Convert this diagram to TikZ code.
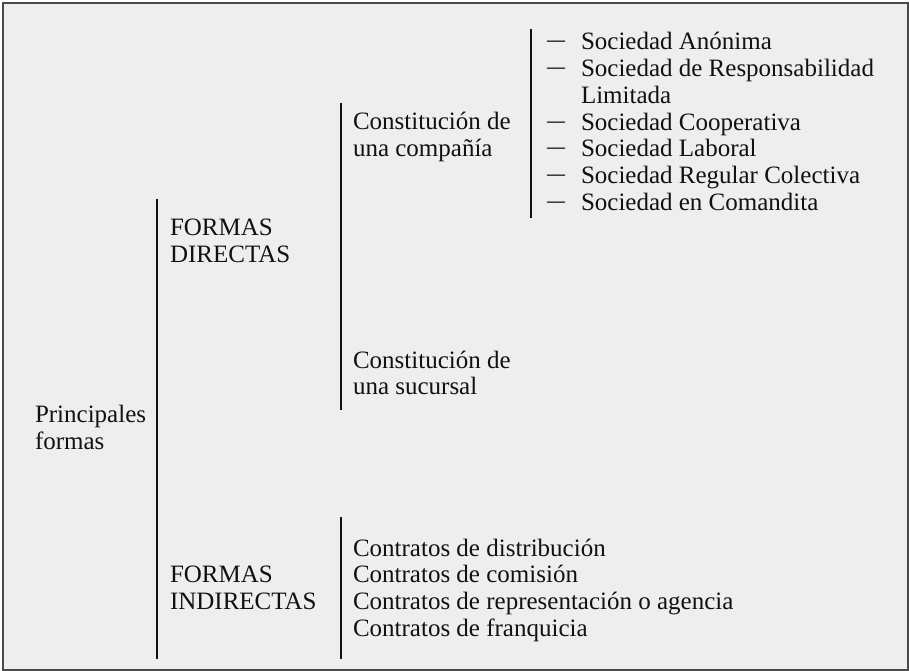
\documentclass[tikz,border=0pt]{standalone}
\usepackage{fontspec}
\usepackage{graphicx}
\setmainfont{Liberation Serif}
\definecolor{panelbg}{HTML}{EEEEEE}
\definecolor{panelframe}{HTML}{4A4A4A}
\definecolor{inkc}{HTML}{111111}
\newcommand{\itemdash}{\makebox[34pt][l]{\raisebox{2pt}{\scalebox{0.72}[1]{—}}}}
\newcommand{\stack}[1]{\vtop{\fontsize{25pt}{26.67pt}\selectfont\halign{##\hfil\cr#1\crcr}}}
\begin{document}
\begin{tikzpicture}[x=1pt,y=-1pt,
  txt/.style={anchor=base west,inner sep=0pt,outer sep=0pt,text=inkc,font=\fontsize{25pt}{26.67pt}\selectfont},
  bracket/.style={draw=inkc,line width=1.2pt}]
\useasboundingbox (0,0) rectangle (910,671);
\draw[fill=panelbg,draw=panelframe,line width=2pt] (3,3) rectangle (908,669.5);
% texts
\node[txt] (prin) at (35,422.5) {\stack{Principales\cr formas}};
\node[txt] (fd) at (170,235.7) {\stack{FORMAS\cr DIRECTAS}};
\node[txt] (fi) at (170,582.7) {\stack{FORMAS\cr INDIRECTAS}};
\node[txt] (cc) at (353,130) {\stack{Constitución de\cr una compañía}};
\node[txt] (cs) at (353,368.3) {\stack{Constitución de\cr una sucursal}};
\node[txt] (ct) at (353,556) {\stack{Contratos de distribución\cr Contratos de comisión\cr Contratos de representación o agencia\cr Contratos de franquicia}};
\node[txt] (soc) at (547,50) {\stack{\itemdash Sociedad Anónima\cr \itemdash Sociedad de Responsabilidad\cr \hspace*{34pt}Limitada\cr \itemdash Sociedad Cooperativa\cr \itemdash Sociedad Laboral\cr \itemdash Sociedad Regular Colectiva\cr \itemdash Sociedad en Comandita}};
% bracket lines
\coordinate (b1t) at (157,199);
\coordinate (b1b) at (157,659);
\coordinate (b2t) at (341,103);
\coordinate (b2b) at (341,410);
\coordinate (b3t) at (341,517);
\coordinate (b3b) at (341,659);
\coordinate (b4t) at (531,29);
\coordinate (b4b) at (531,218);
\draw[bracket] (b1t) -- (b1b);
\draw[bracket] (b2t) -- (b2b);
\draw[bracket] (b3t) -- (b3b);
\draw[bracket] (b4t) -- (b4b);
\end{tikzpicture}
\end{document}
